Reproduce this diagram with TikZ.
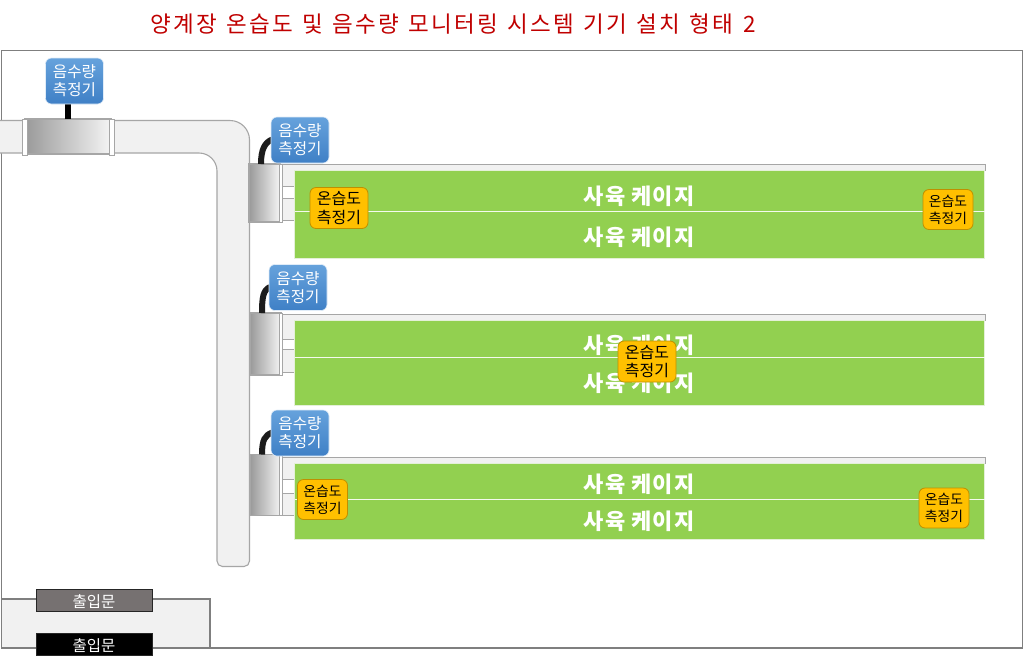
\documentclass[tikz,border=0pt]{standalone}
\usepackage{fontspec}
\setmainfont{Noto Sans CJK KR}
\newfontfamily\titlefont[LetterSpace=10,WordSpace=1.3]{Noto Sans CJK KR}
\newfontfamily\cagefont[LetterSpace=5]{Noto Sans CJK KR}
\usetikzlibrary{calc}
\newcommand{\twolines}[2]{\raisebox{-2pt}[\height][\depth]{\begin{tabular}{@{}c@{}}#1\\#2\end{tabular}}}
\newcommand{\lowered}[1]{\raisebox{-1.5pt}[\height][\depth]{#1}}
\definecolor{pipefill}{HTML}{F1F1F1}
\definecolor{pipeline}{HTML}{A6A6A6}
\definecolor{framec}{HTML}{7F7F7F}
\definecolor{cage}{HTML}{92D050}
\definecolor{cageedge}{HTML}{E4F0D8}
\definecolor{orangefill}{HTML}{FFC000}
\definecolor{orangeedge}{HTML}{BF8F00}
\definecolor{bluetop}{HTML}{66A2DC}
\definecolor{bluebot}{HTML}{3F80C6}
\definecolor{titlered}{HTML}{C00000}
\definecolor{doorgray}{HTML}{767171}
\definecolor{stemc}{HTML}{1C1C1C}
\tikzset{
  pipe/.style={fill=pipefill,draw=pipeline,line width=1.1pt},
  blueb/.style={rectangle,rounded corners=6pt,draw=white!80!bluetop,line width=.6pt,top color=bluetop,bottom color=bluebot,text=white,
    minimum width=58pt,minimum height=46pt,inner sep=0pt,outer sep=0pt,font=\fontsize{15.6}{18}\selectfont},
  orangeb/.style={rectangle,rounded corners=6pt,draw=orangeedge,line width=.8pt,fill=orangefill,text=black,
    inner sep=0pt,outer sep=0pt},
  orangebig/.style={orangeb,minimum width=58pt,minimum height=41pt,font=\fontsize{16}{17.5}\selectfont},
  orangesmall/.style={orangeb,minimum width=50pt,minimum height=40pt,font=\fontsize{13.8}{17}\selectfont},
  cagebox/.style={rectangle,fill=cage,draw=cageedge,line width=.8pt,minimum width=690pt,inner sep=0pt,outer sep=0pt},
  cagetext/.style={text=white,inner sep=0pt,font=\cagefont\fontsize{22}{24}\selectfont\bfseries},
  valve/.style={rectangle,left color=black!40,right color=white!96!black,draw=pipeline,line width=1.1pt,inner sep=0pt,outer sep=0pt},
  band/.style={rectangle,fill=white,draw=pipeline,line width=.8pt,inner sep=0pt,outer sep=0pt},
  door/.style={rectangle,draw=black!85,line width=1pt,minimum width=116pt,minimum height=22pt,inner sep=0pt,outer sep=0pt,text=white,font=\fontsize{15.5}{17}\selectfont},
  stem/.style={draw=stemc,line width=6pt},
  midline/.style={draw=white!90!cage,line width=.9pt}
}
\begin{document}
\begin{tikzpicture}[x=1pt,y=-1pt]
\useasboundingbox (0,0) rectangle (1024,662);
\fill[white] (0,0) rectangle (1024,662);
% entrance block
\draw[fill=pipefill,draw=framec,line width=1.2pt] (1.5,599) -- (210,599) -- (210,648) -- (1.5,648);
% frame
\draw[framec,line width=1.2pt] (1.5,50.5) rectangle (1022.8,648);
% title
\node[text=titlered,inner sep=0pt,font=\titlefont\fontsize{22.5}{25}\selectfont,anchor=west] (title) at (150,24) {양계장 온습도 및 음수량 모니터링 시스템 기기 설치 형태 2};
% main pipe
\draw[pipe] (0,120.5) -- (230,120.5) arc[start angle=-90,end angle=0,radius=19.5] -- (249.5,561) arc[start angle=0,end angle=90,radius=5.5] -- (222.5,566.5) arc[start angle=90,end angle=180,radius=5.5] -- (217,171) arc[start angle=0,end angle=-90,radius=18] -- (0,153);
\node[door,fill=doorgray] (door1) at (94,600) {\lowered{출입문}};
\node[door,fill=black] (door2) at (94,644) {\lowered{출입문}};
% header strips and branch pipes
\foreach \t/\a/\b/\c/\d in {164/170/186/198/220, 314/320/339/349/372, 457/463/479/493/515}{
  \draw[pipe,line width=.9pt] (282,\t) -- (985,\t) -- (985,\a) -- (295,\a) -- (295,\b) -- (282,\b) -- cycle;
  \draw[pipe,line width=.9pt] (282,\c) -- (295,\c) -- (295,\d) -- (282,\d) -- cycle;
}
% cages
\node[cagebox,minimum height=88pt] (c1) at (639.5,214) {};
\node[cagebox,minimum height=85pt] (c2) at (639.5,362.5) {};
\node[cagebox,minimum height=76pt] (c3) at (639.5,501) {};
\draw[midline] (c1.west |- 0,211.5) -- (c1.east |- 0,211.5);
\draw[midline] (c2.west |- 0,357) -- (c2.east |- 0,357);
\draw[midline] (c3.west |- 0,499) -- (c3.east |- 0,499);
\node[cagetext] (t1) at (639,196) {사육 케이지};
\node[cagetext] (t2) at (639,237) {사육 케이지};
\node[cagetext] (t3) at (639,345) {사육 케이지};
\node[cagetext] (t4) at (639,383) {사육 케이지};
\node[cagetext] (t5) at (639,484) {사육 케이지};
\node[cagetext] (t6) at (639,521) {사육 케이지};
% sensors on pipe
\node[valve,minimum width=87pt,minimum height=35pt] (s0) at (68,136.5) {};
\node[band,minimum width=5pt,minimum height=36pt] (s0a) at (24.5,137) {};
\node[band,minimum width=5pt,minimum height=36pt] (s0b) at (111.5,137) {};
\node[valve,minimum width=31pt,minimum height=58pt] (s1) at (264.5,193) {};
\node[valve,minimum width=31pt,minimum height=62pt] (s2) at (265.5,344) {};
\node[valve,minimum width=31pt,minimum height=61pt] (s3) at (265.5,485) {};
\node[band,minimum width=3pt,minimum height=58pt] (s1b) at (281,193) {};
\node[band,minimum width=3pt,minimum height=62pt] (s2b) at (281,344) {};
\node[band,minimum width=3pt,minimum height=61pt] (s3b) at (281,485) {};
% stems
\coordinate (b0foot) at (68,104);
\draw[stem,draw=black] (68,119) -- (b0foot);
\coordinate (b1w) at (272,139.5);
\coordinate (b2w) at (270,287);
\coordinate (b3w) at (272,432.5);
\foreach \s/\b in {s1/b1w,s2/b2w,s3/b3w}{
  \coordinate (st) at ($(\s.north west)+(12,0)$);
  \draw[stem] (st) .. controls ($(st)+(0,-15)$) and ($(\b)+(-7,3)$) .. (\b);
}
% blue boxes
\node[blueb] (b0) at (74.5,81) {\twolines{음수량}{측정기}};
\node[blueb] (b1) at (300,140) {\twolines{음수량}{측정기}};
\node[blueb] (b2) at (298,287.5) {\twolines{음수량}{측정기}};
\node[blueb] (b3) at (300,433) {\twolines{음수량}{측정기}};
% orange boxes
\node[orangebig] (o1) at (339,208) {\twolines{온습도}{측정기}};
\node[orangesmall] (o2) at (948,209.5) {\twolines{온습도}{측정기}};
\node[orangebig] (o3) at (647,361.5) {\twolines{온습도}{측정기}};
\node[orangesmall] (o4) at (322.5,499.5) {\twolines{온습도}{측정기}};
\node[orangesmall] (o5) at (944,508) {\twolines{온습도}{측정기}};
\end{tikzpicture}
\end{document}
